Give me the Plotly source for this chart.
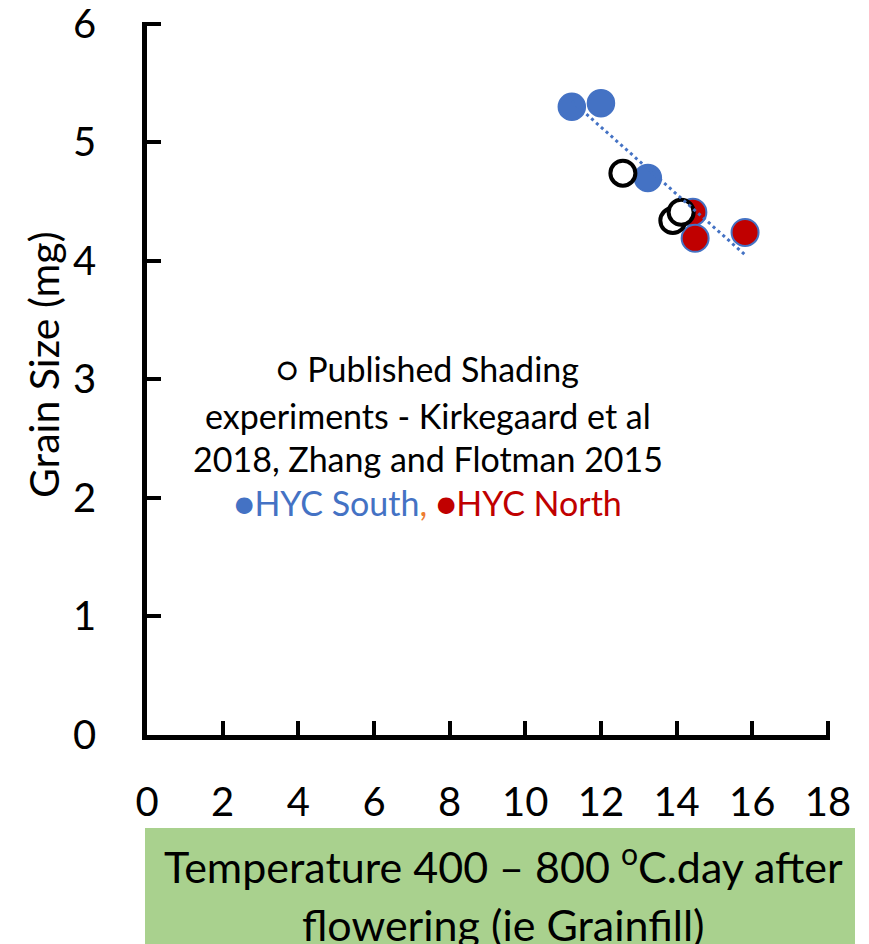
import numpy as np
import plotly.graph_objects as go

# Data
south_x = [11.23, 12.00, 13.24]
south_y = [5.30, 5.33, 4.70]
north_x = [14.43, 14.49, 15.81]
north_y = [4.41, 4.19, 4.24]
shade_x = [12.58, 13.90, 14.12]
shade_y = [4.74, 4.34, 4.41]

x_ticks = [0, 2, 4, 6, 8, 10, 12, 14, 16, 18]
y_ticks = [0, 1, 2, 3, 4, 5, 6]

FONT = "Lato"
BLUE = "#4472C4"
RED = "#C00000"

# linear trendline through the HYC points
hx = np.array(south_x + north_x)
hy = np.array(south_y + north_y)
k, b0 = np.polyfit(hx, hy, 1)
tx = np.array([hx.min(), hx.max()])
ty = k * tx + b0

fig = go.Figure()
fig.add_trace(go.Scatter(x=south_x, y=south_y, mode="markers",
                         marker=dict(size=27, color=BLUE, line=dict(color=BLUE, width=1.5)),
                         showlegend=False, cliponaxis=False))
fig.add_trace(go.Scatter(x=north_x, y=north_y, mode="markers",
                         marker=dict(size=27, color=RED, line=dict(color=BLUE, width=2)),
                         showlegend=False, cliponaxis=False))
fig.add_trace(go.Scatter(x=shade_x, y=shade_y, mode="markers",
                         marker=dict(size=25, color="white", line=dict(color="black", width=4)),
                         showlegend=False, cliponaxis=False))
fig.add_trace(go.Scatter(x=tx, y=ty, mode="lines",
                         line=dict(color=BLUE, width=3, dash="3px,3.5px"),
                         showlegend=False))

axis_common = dict(showgrid=False, zeroline=False, showline=True, linecolor="black",
                   linewidth=4.5, ticks="inside", ticklen=14, tickwidth=4, tickcolor="black",
                   ticklabeloverflow="allow", automargin=False,
                   tickfont=dict(family=FONT, size=40, color="black"))
fig.update_xaxes(range=[0, 18.055], tickvals=x_ticks, ticktext=[str(v) for v in x_ticks],
                 ticklabelstandoff=28, **axis_common)
fig.update_yaxes(range=[0, 6.015], tickvals=y_ticks, ticktext=[str(v) for v in y_ticks],
                 ticklabelstandoff=38, **axis_common)

def py(p):
    return (735 - p) / 713.0

def px(p):
    return (p - 147) / 683.0

annotations = [
    dict(text="Grain Size (mg)", x=px(44), y=py(365), textangle=-90,
         font=dict(family=FONT, size=41, color="black")),
    dict(text="○ Published Shading", x=px(427), y=py(368),
         font=dict(family=FONT, size=34, color="black")),
    dict(text="experiments - Kirkegaard et al", x=px(428), y=py(415),
         font=dict(family=FONT, size=34, color="black")),
    dict(text="2018, Zhang and Flotman 2015", x=px(428), y=py(458),
         font=dict(family=FONT, size=34, color="black")),
    dict(text=f"<span style='color:{BLUE}'>●HYC South</span><span style='color:#ED7D31'>,</span> "
              f"<span style='color:{RED}'>●HYC North</span>", x=px(428), y=py(502),
         font=dict(family=FONT, size=34, color=BLUE)),
    dict(text="Temperature 400 – 800 <sup>o</sup>C.day after", x=px(503), y=py(863),
         font=dict(family=FONT, size=43, color="black")),
    dict(text="flowering (ie Grainfill)", x=px(503), y=py(924),
         font=dict(family=FONT, size=43, color="black")),
]
for a in annotations:
    a.update(xref="paper", yref="paper", showarrow=False, xanchor="center", yanchor="middle")

fig.update_layout(
    width=869, height=944,
    margin=dict(l=139, r=47, t=14, b=217, autoexpand=False),
    paper_bgcolor="white", plot_bgcolor="white",
    annotations=annotations,
    shapes=[dict(type="rect", xref="paper", yref="paper", x0=px(145), x1=px(855),
                 y0=py(828), y1=py(960), fillcolor="#A9D18E", line=dict(width=0), layer="below")],
)

fig.write_html("out.html")
